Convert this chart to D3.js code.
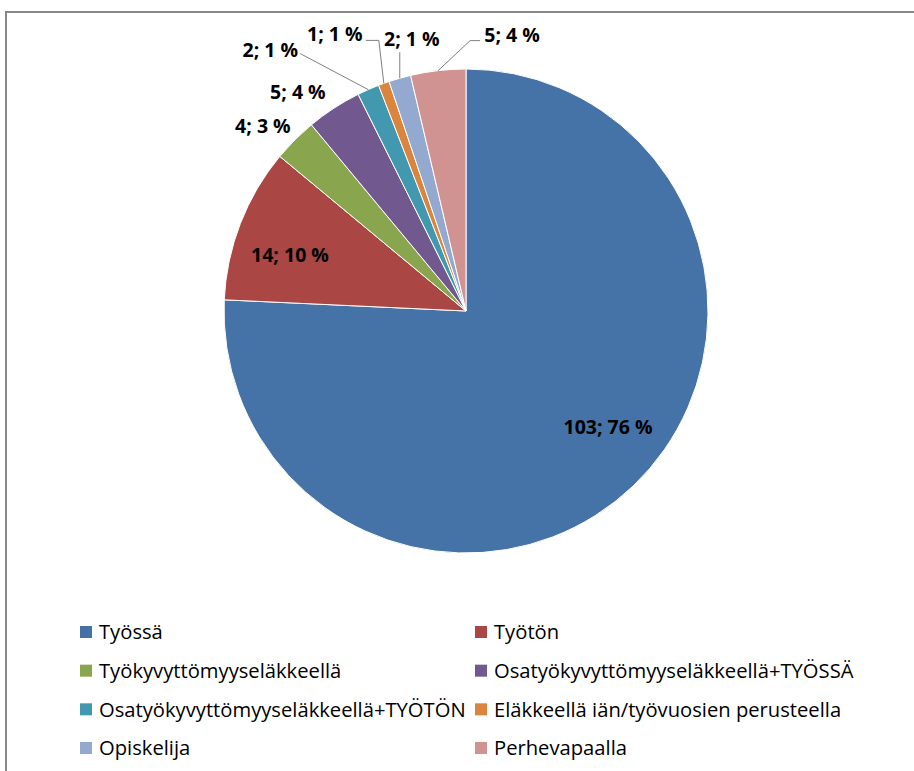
<!DOCTYPE html>
<html>
<head>
<meta charset="utf-8">
<script src="https://cdn.jsdelivr.net/npm/d3@7"></script>
<style>
  body { margin: 0; background: #fff; }
  svg { display: block; }
</style>
</head>
<body>
<script>
const categories = [
    'Työssä',
    'Työtön',
    'Työkyvyttömyyseläkkeellä',
    'Osatyökyvyttömyyseläkkeellä+TYÖSSÄ',
    'Osatyökyvyttömyyseläkkeellä+TYÖTÖN',
    'Eläkkeellä iän/työvuosien perusteella',
    'Opiskelija',
    'Perhevapaalla'
];
const counts = [103, 14, 4, 5, 2, 1, 2, 5];
const colors = ['#4572A7', '#AA4643', '#89A54E', '#71588F', '#4198AF', '#DB843D', '#93A9CF', '#D19392'];

// label placement per slice (layout only): k = radius factor, dx/dy = nudge
const labelLayout = [
    {k: 0.76, dx: 15, dy: -17},
    {k: 0.78, dx: 0, dy: 12},
    {k: 1, dx: -32, dy: -14},
    {k: 1, dx: -36, dy: -16},
    {k: 1, dx: -98, dy: -40, leader: [[-68, -36]]},
    {k: 1, dx: -49, dy: -49, leader: [[-5, -43], [-18, -43]]},
    {k: 1, dx: 12, dy: -39, leader: [[0, -26]]},
    {k: 1, dx: 74, dy: -36, leader: [[32, -30], [42, -30]]}
];

const width = 914, height = 771;
const cx = 466, cy = 311, r = 242;

const svg = d3.select('body').append('svg')
    .attr('width', width)
    .attr('height', height);

// frame
svg.append('rect')
    .attr('x', 6)
    .attr('y', 12)
    .attr('width', width)
    .attr('height', height)
    .attr('fill', 'none')
    .attr('stroke', '#888')
    .attr('stroke-width', 2);

const total = d3.sum(counts);
const data = categories.map((c, i) => ({name: c, value: counts[i], color: colors[i], layout: labelLayout[i]}));

const pie = d3.pie().sort(null).value(d => d.value);
const arc = d3.arc().innerRadius(0).outerRadius(r);
const arcs = pie(data);

const g = svg.append('g')
    .attr('transform', `translate(${cx},${cy})`);

g.selectAll('.slice')
    .data(arcs)
    .join('path')
    .attr('class', 'slice')
    .attr('d', arc)
    .attr('fill', d => d.data.color)
    .attr('stroke', '#fff')
    .attr('stroke-width', 1);

const midAngle = d => (d.startAngle + d.endAngle) / 2;
const pointAt = (d, rad) => [Math.sin(midAngle(d)) * rad, -Math.cos(midAngle(d)) * rad];

const labelPos = d => {
    const l = d.data.layout;
    const p = pointAt(d, r * l.k);
    return [p[0] + l.dx, p[1] + l.dy];
};

// leader lines
g.selectAll('.leader')
    .data(arcs.filter(d => d.data.layout.leader))
    .join('polyline')
    .attr('class', 'leader')
    .attr('fill', 'none')
    .attr('stroke', '#7f7f7f')
    .attr('stroke-width', 1)
    .attr('points', d => {
        const e = pointAt(d, r);
        const pts = [e].concat(d.data.layout.leader.map(p => [e[0] + p[0], e[1] + p[1]]));
        return pts.map(p => p.join(',')).join(' ');
    });

g.selectAll('.label')
    .data(arcs)
    .join('text')
    .attr('class', 'label')
    .attr('text-anchor', 'middle')
    .attr('dy', '0.36em')
    .attr('x', d => labelPos(d)[0])
    .attr('y', d => labelPos(d)[1])
    .attr('font-family', 'Open Sans, sans-serif')
    .attr('font-weight', 'bold')
    .attr('font-size', 19.5)
    .attr('fill', '#000')
    .text(d => `${d.data.value}; ${Math.round(d.data.value / total * 100)} %`);

// legend
const legendCol = d3.scaleOrdinal().domain([0, 1]).range([80, 475]);
const legendRow = d3.scalePoint().domain([0, 1, 2, 3]).range([632, 748]);

const legend = svg.append('g')
    .selectAll('.legend-item')
    .data(data)
    .join('g')
    .attr('class', 'legend-item')
    .attr('transform', (d, i) => `translate(${legendCol(i % 2)},${legendRow(Math.floor(i / 2))})`);

legend.append('rect')
    .attr('x', 0)
    .attr('y', -6)
    .attr('width', 12)
    .attr('height', 12)
    .attr('fill', d => d.color);

legend.append('text')
    .attr('x', 19)
    .attr('dy', '0.36em')
    .attr('font-family', 'Open Sans, sans-serif')
    .attr('font-size', 20.2)
    .attr('fill', '#000')
    .text(d => d.name);
</script>
</body>
</html>
